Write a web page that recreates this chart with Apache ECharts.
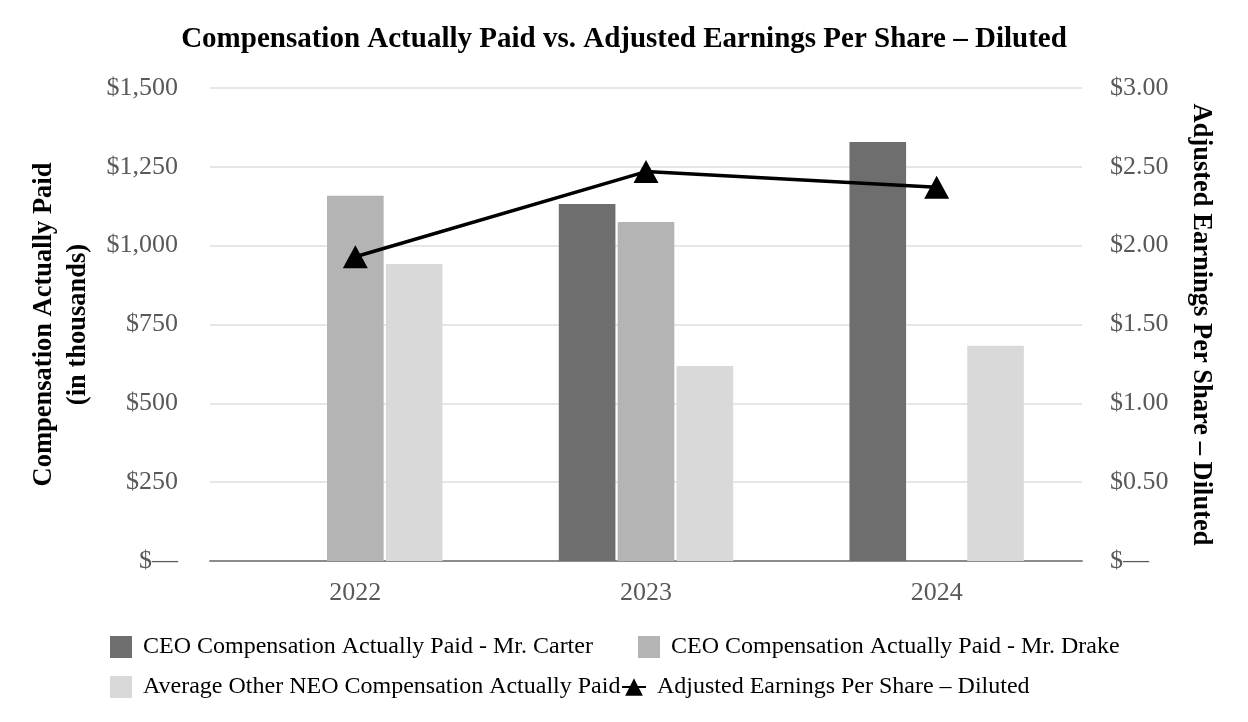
<!DOCTYPE html>
<html>
<head>
<meta charset="utf-8">
<script src="https://cdn.jsdelivr.net/npm/echarts@6/dist/echarts.min.js"></script>
<style>
html,body{margin:0;padding:0;background:#fff;}
#chart{width:1248px;height:722px;}
</style>
</head>
<body>
<div id="chart"></div>
<script>
const years = ['2022', '2023', '2024'];
const carterCAP = [null, 1132, 1329];
const drakeCAP = [1158, 1075, null];
const neoCAP = [942, 618, 683];
const adjustedEPS = [1.93, 2.47, 2.37];
const seriesNames = [
  'CEO Compensation Actually Paid - Mr. Carter',
  'CEO Compensation Actually Paid - Mr. Drake',
  'Average Other NEO Compensation Actually Paid',
  'Adjusted Earnings Per Share \u2013 Diluted'
];

const FONT = '"Liberation Serif", "Times New Roman", serif';
const chart = echarts.init(document.getElementById('chart'));

function leftFmt(v) {
  if (v === 0) return '$\u2014';
  return '$' + v.toLocaleString('en-US');
}
function rightFmt(v) {
  if (v === 0) return '$\u2014';
  return '$' + v.toFixed(2);
}

const legendBase = {
  itemWidth: 22, itemHeight: 22, itemGap: 10, padding: 0,
  textStyle: { fontFamily: FONT, fontSize: 24, color: '#000', padding: [0, 0, 0, 6] },
  selectedMode: false
};

chart.setOption({
  animation: false,
  title: {
    text: 'Compensation Actually Paid vs. Adjusted Earnings Per Share \u2013 Diluted',
    left: 'center', top: 20,
    textStyle: { fontFamily: FONT, fontSize: 29, fontWeight: 'bold', color: '#000' }
  },
  legend: [
    Object.assign({}, legendBase, { left: 110, top: 635, icon: 'rect', data: [seriesNames[0]] }),
    Object.assign({}, legendBase, { left: 638, top: 635, icon: 'rect', data: [seriesNames[1]] }),
    Object.assign({}, legendBase, { left: 110, top: 675, icon: 'rect', data: [seriesNames[2]] }),
    Object.assign({}, legendBase, { left: 621, top: 675, itemWidth: 24, data: [seriesNames[3]] })
  ],
  grid: { left: 210, right: 166, top: 88, bottom: 161, containLabel: false, outerBoundsMode: 'none' },
  xAxis: {
    type: 'category',
    data: years,
    axisLine: { lineStyle: { color: '#8c8c8c', width: 2 } },
    axisTick: { alignWithLabel: true, length: 6, lineStyle: { color: '#8c8c8c', width: 2 } },
    axisLabel: { fontFamily: FONT, fontSize: 26, color: '#595959', margin: 19 }
  },
  yAxis: [
    {
      type: 'value', min: 0, max: 1500, interval: 250,
      name: 'Compensation Actually Paid\n(in thousands)',
      nameLocation: 'middle', nameRotate: 90, nameGap: 111,
      nameTextStyle: { fontFamily: FONT, fontSize: 26.5, fontWeight: 'bold', color: '#000', lineHeight: 34 },
      axisLine: { show: false }, axisTick: { show: false },
      axisLabel: { fontFamily: FONT, fontSize: 26, color: '#595959', margin: 32, formatter: leftFmt },
      splitLine: { lineStyle: { color: '#e6e6e6', width: 2 } }
    },
    {
      type: 'value', min: 0, max: 3, interval: 0.5,
      name: 'Adjusted Earnings Per Share \u2013 Diluted',
      nameLocation: 'middle', nameRotate: -90, nameGap: 105,
      nameTextStyle: { fontFamily: FONT, fontSize: 26.5, fontWeight: 'bold', color: '#000' },
      axisLine: { show: false }, axisTick: { show: false },
      axisLabel: { fontFamily: FONT, fontSize: 26, color: '#595959', margin: 28, formatter: rightFmt },
      splitLine: { show: false }
    }
  ],
  series: [
    { name: seriesNames[0], type: 'bar', data: carterCAP, itemStyle: { color: '#6e6e6e' }, barCategoryGap: '40%', barGap: '4%' },
    { name: seriesNames[1], type: 'bar', data: drakeCAP, itemStyle: { color: '#b4b4b4' }, barCategoryGap: '40%', barGap: '4%' },
    { name: seriesNames[2], type: 'bar', data: neoCAP, itemStyle: { color: '#d9d9d9' }, barCategoryGap: '40%', barGap: '4%' },
    {
      name: seriesNames[3], type: 'line', yAxisIndex: 1, data: adjustedEPS,
      symbol: 'triangle', symbolSize: [25, 23], showSymbol: true,
      lineStyle: { color: '#000', width: 3.5 },
      itemStyle: { color: '#000' }
    }
  ]
});
</script>
</body>
</html>
